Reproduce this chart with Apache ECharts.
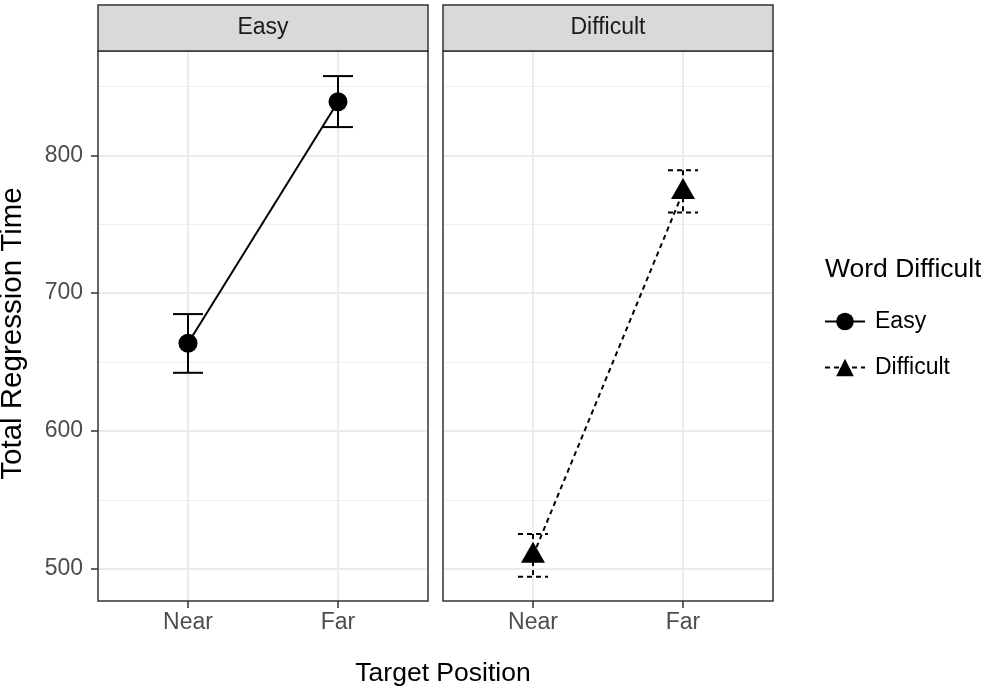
<!DOCTYPE html>
<html>
<head>
<meta charset="utf-8">
<script src="https://cdn.jsdelivr.net/npm/echarts@6/dist/echarts.min.js"></script>
<style>
  html, body { margin: 0; padding: 0; background: #fff; }
  #chart { width: 981px; height: 691px; }
</style>
</head>
<body>
<div id="chart"></div>
<script>
// Facet panels and the two target positions on each x axis
const panels = ['Easy', 'Difficult'];
const positions = ['Near', 'Far'];

// Mean total regression time with lower / upper error limits
const easyMean = [663.6, 838.9];
const easyLow = [642.2, 820.5];
const easyHigh = [684.8, 857.5];
const difficultMean = [509.4, 773.3];
const difficultLow = [494.2, 758.6];
const difficultHigh = [525.2, 789.1];

// Axis ticks and ranges
const yMajorTicks = [500, 600, 700, 800];
const yMinorTicks = [550, 650, 750, 850];
const yRange = [476.6, 875.7];
const xTicks = [1, 2];
const xRange = [0.4, 2.6];

const FONT = '"Liberation Sans", Arial, Helvetica, sans-serif';
const LABEL_SIZE = 23;
const GRID = [
  { left: 98, top: 51, width: 330, height: 550 },
  { left: 443, top: 51, width: 330, height: 550 }
];
const STRIP_TOP = 5;

const chart = echarts.init(document.getElementById('chart'), null, { renderer: 'canvas' });

function pointData(means) {
  return means.map((m, i) => [xTicks[i], m]);
}
function barData(low, high) {
  return low.map((lo, i) => [xTicks[i], lo, high[i]]);
}

// vertical bar with a cap at each end; caps span 0.2 x units
function errorBarItem(dashed) {
  return function (params, api) {
    const x = api.value(0), lo = api.value(1), hi = api.value(2);
    const half = 0.1;
    const top = api.coord([x, hi]), bot = api.coord([x, lo]);
    const tl = api.coord([x - half, hi]), tr = api.coord([x + half, hi]);
    const bl = api.coord([x - half, lo]), br = api.coord([x + half, lo]);
    const style = { stroke: '#000', lineWidth: 2, fill: null, lineDash: dashed ? [5, 4] : null };
    return {
      type: 'group',
      children: [
        { type: 'line', shape: { x1: top[0], y1: top[1], x2: bot[0], y2: bot[1] }, style: style },
        { type: 'line', shape: { x1: tl[0], y1: tl[1], x2: tr[0], y2: tr[1] }, style: style },
        { type: 'line', shape: { x1: bl[0], y1: bl[1], x2: br[0], y2: br[1] }, style: style }
      ]
    };
  };
}

const xAxes = GRID.map((g, i) => ({
  type: 'value', gridIndex: i, min: xRange[0], max: xRange[1],
  axisLine: { show: false },
  axisTick: { show: true, customValues: xTicks, length: 7, lineStyle: { color: '#333', width: 1.5 } },
  axisLabel: {
    customValues: xTicks, margin: 10, fontSize: LABEL_SIZE, color: '#4D4D4D', fontFamily: FONT,
    formatter: v => positions[Math.round(v) - 1] || ''
  },
  splitLine: { show: true, lineStyle: { color: '#EBEBEB', width: 2 } }
}));

const yAxes = [];
GRID.forEach((g, i) => {
  // major grid, ticks and labels
  yAxes.push({
    type: 'value', gridIndex: i, min: yRange[0], max: yRange[1],
    axisLine: { show: false },
    axisTick: { show: i === 0, customValues: yMajorTicks, length: 7, lineStyle: { color: '#333', width: 1.5 } },
    axisLabel: { show: i === 0, customValues: yMajorTicks, margin: 15, fontSize: LABEL_SIZE, color: '#4D4D4D', fontFamily: FONT },
    splitLine: { show: true, lineStyle: { color: '#EBEBEB', width: 2 } }
  });
});
GRID.forEach((g, i) => {
  // minor grid lines
  yAxes.push({
    type: 'value', gridIndex: i, min: yRange[0], max: yRange[1],
    axisLine: { show: false },
    axisTick: { show: false, customValues: yMinorTicks },
    axisLabel: { show: false, customValues: yMinorTicks },
    splitLine: { show: true, lineStyle: { color: '#EFEFEF', width: 1.2 } }
  });
});

const graphic = [];
GRID.forEach((g, i) => {
  graphic.push({
    type: 'rect', z: 100,
    shape: { x: g.left, y: g.top, width: g.width, height: g.height },
    style: { fill: null, stroke: '#333', lineWidth: 1.5 }
  });
  graphic.push({
    type: 'rect', z: 100,
    shape: { x: g.left, y: STRIP_TOP, width: g.width, height: g.top - STRIP_TOP },
    style: { fill: '#D9D9D9', stroke: '#333', lineWidth: 1.5 }
  });
  graphic.push({
    type: 'text', z: 101,
    x: g.left + g.width / 2, y: (STRIP_TOP + g.top) / 2,
    style: { text: panels[i], fontSize: LABEL_SIZE, fill: '#1A1A1A', fontFamily: FONT, align: 'center', verticalAlign: 'middle' }
  });
});
// axis titles
graphic.push({
  type: 'text', z: 101, x: 443, y: 674,
  style: { text: 'Target Position', fontSize: 26.5, fill: '#000', fontFamily: FONT, align: 'center', verticalAlign: 'middle' }
});
graphic.push({
  type: 'text', z: 101, x: 13, y: 333.5, rotation: Math.PI / 2,
  style: { text: 'Total Regression Time', fontSize: 29.5, fill: '#000', fontFamily: FONT, align: 'center', verticalAlign: 'middle' }
});
// legend title
graphic.push({
  type: 'text', z: 101, x: 825, y: 269.5,
  style: { text: 'Word Difficult', fontSize: 26.5, fill: '#000', fontFamily: FONT, align: 'left', verticalAlign: 'middle' }
});

const option = {
  animation: false,
  backgroundColor: '#fff',
  textStyle: { fontFamily: FONT },
  grid: GRID.map(g => Object.assign({ containLabel: false }, g)),
  xAxis: xAxes,
  yAxis: yAxes,
  legend: {
    orient: 'vertical', left: 824, top: 310, padding: 0,
    itemWidth: 40, itemHeight: 22, itemGap: 23,
    data: ['Easy', 'Difficult'],
    textStyle: { fontSize: LABEL_SIZE, color: '#000', fontFamily: FONT, padding: [0, 0, 0, 5] }
  },
  graphic: graphic,
  series: [
    {
      name: 'Easy', type: 'line', xAxisIndex: 0, yAxisIndex: 0,
      data: pointData(easyMean),
      symbol: 'circle', symbolSize: 19,
      lineStyle: { color: '#000', width: 2, type: 'solid' },
      itemStyle: { color: '#000' }, z: 3
    },
    {
      name: 'Easy error', type: 'custom', xAxisIndex: 0, yAxisIndex: 0,
      data: barData(easyLow, easyHigh),
      encode: { x: 0, y: [1, 2] },
      renderItem: errorBarItem(false), z: 2
    },
    {
      name: 'Difficult', type: 'line', xAxisIndex: 1, yAxisIndex: 1,
      data: pointData(difficultMean),
      symbol: 'triangle', symbolSize: [24, 21], symbolOffset: [0, -3.5],
      lineStyle: { color: '#000', width: 2, type: [5, 4] },
      itemStyle: { color: '#000' }, z: 3
    },
    {
      name: 'Difficult error', type: 'custom', xAxisIndex: 1, yAxisIndex: 1,
      data: barData(difficultLow, difficultHigh),
      encode: { x: 0, y: [1, 2] },
      renderItem: errorBarItem(true), z: 2
    }
  ]
};

chart.setOption(option);
</script>
</body>
</html>
